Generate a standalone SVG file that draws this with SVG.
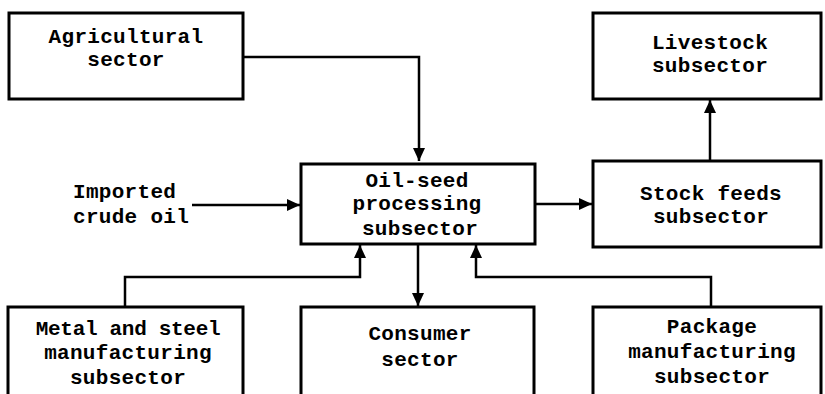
<svg xmlns="http://www.w3.org/2000/svg" width="825" height="394" viewBox="0 0 825 394">
<defs>
<marker id="ah" viewBox="0 0 13 12" refX="13" refY="6" markerWidth="13" markerHeight="12" markerUnits="userSpaceOnUse" orient="auto">
<path d="M0,0 L13,6 L0,12 Z" fill="#000"/>
</marker>
<style>
.box{fill:#fff;stroke:#000;stroke-width:3}
.t{font-family:"Liberation Mono","DejaVu Sans Mono",monospace;font-weight:bold;font-size:21px;fill:#000;text-anchor:middle;letter-spacing:0.3px}
.c{fill:none;stroke:#000;stroke-width:2.5}
</style>
</defs>
<rect width="825" height="394" fill="#fff"/>
<g id="connectors">
<polyline class="c" points="243,57 419,57 419,161" marker-end="url(#ah)"/>
<line class="c" x1="192" y1="205" x2="300" y2="205" marker-end="url(#ah)"/>
<line class="c" x1="535" y1="204" x2="592" y2="204" marker-end="url(#ah)"/>
<line class="c" x1="710" y1="160" x2="710" y2="100" marker-end="url(#ah)"/>
<line class="c" x1="418" y1="244" x2="418" y2="306" marker-end="url(#ah)"/>
<polyline class="c" points="125,307 125,277 360,277 360,245" marker-end="url(#ah)"/>
<polyline class="c" points="711,307 711,277 476,277 476,245" marker-end="url(#ah)"/>
</g>
<g id="agricultural">
<rect class="box" x="9" y="13" width="234" height="86"/>
<text class="t" x="126" y="43">Agricultural</text>
<text class="t" x="126" y="66">sector</text>
</g>
<g id="livestock">
<rect class="box" x="593" y="13" width="228" height="86"/>
<text class="t" x="710" y="49">Livestock</text>
<text class="t" x="710" y="72">subsector</text>
</g>
<g id="imported">
<text class="t" x="73" y="198" style="text-anchor:start">Imported</text>
<text class="t" x="73" y="223" style="text-anchor:start">crude oil</text>
</g>
<g id="oilseed">
<rect class="box" x="301" y="164" width="234" height="80"/>
<text class="t" x="417" y="187">Oil-seed</text>
<text class="t" x="417" y="210">processing</text>
<text class="t" x="420" y="235">subsector</text>
</g>
<g id="stockfeeds">
<rect class="box" x="593" y="161" width="228" height="86"/>
<text class="t" x="711" y="200">Stock feeds</text>
<text class="t" x="711" y="223">subsector</text>
</g>
<g id="metal">
<rect class="box" x="8" y="307" width="235" height="100"/>
<text class="t" x="128" y="335" style="letter-spacing:-0.3px">Metal and steel</text>
<text class="t" x="128" y="359">manufacturing</text>
<text class="t" x="128" y="384">subsector</text>
</g>
<g id="consumer">
<rect class="box" x="301" y="307" width="233" height="100"/>
<text class="t" x="420" y="340">Consumer</text>
<text class="t" x="420" y="366">sector</text>
</g>
<g id="package">
<rect class="box" x="593" y="307" width="228" height="100"/>
<text class="t" x="712" y="333">Package</text>
<text class="t" x="712" y="358">manufacturing</text>
<text class="t" x="712" y="383">subsector</text>
</g>
</svg>
